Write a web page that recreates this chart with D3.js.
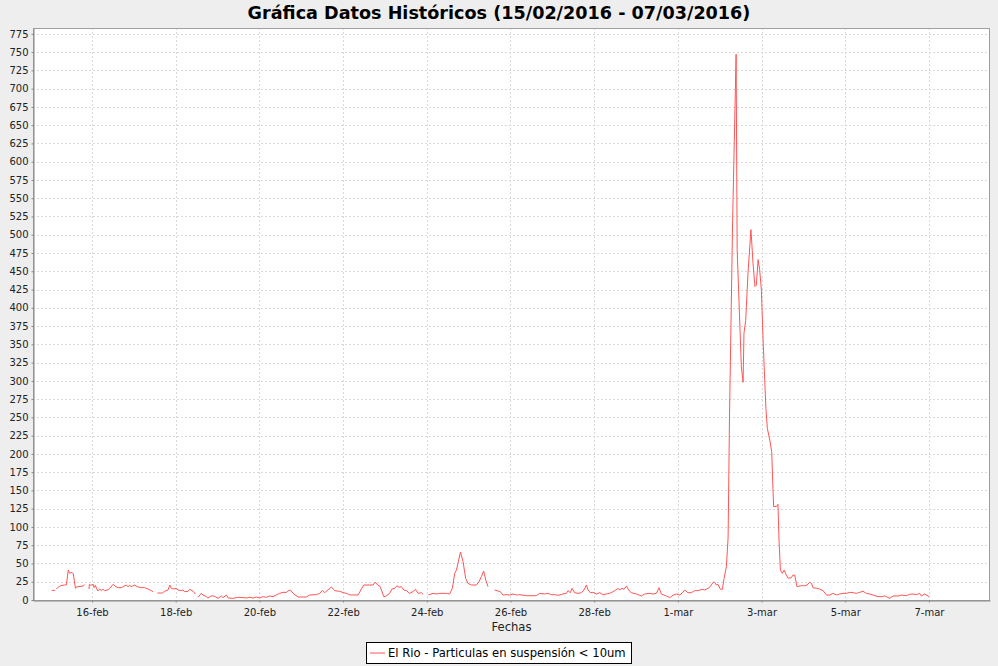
<!DOCTYPE html>
<html>
<head>
<meta charset="utf-8">
<script src="https://cdn.jsdelivr.net/npm/d3@7"></script>
<style>
  body { margin: 0; background: #eeeeee; }
  svg { display: block; }
</style>
</head>
<body>
<svg width="998" height="666"></svg>
<script>
// readings: [hours since 15/02/2016 00:00, PM10 value], null = no data
var week1 = [
  [0.9, 13.2], [2.8, 13.2], [3.2, null],
  [3.6, 15], [4.3, 16.9], [6.0, 19.6], [8.2, 20.5], [9.3, 20.5], [10.4, 41.1], [11.2, 36.5],
  [12.5, 37.9], [13.3, 35.6], [14.5, 16.0], [15.0, 17.8], [18.9, 19.2], [19.8, 21.0], [21, null],
  [22.3, 15.1], [22.5, 21.5], [23.3, 20.1], [24.6, 21.5], [25.2, 16.9], [25.9, 20.1], [27.3, 12.3],
  [28.4, 15.1], [29.4, 12.8], [30.3, 14.6], [31.3, 12.8], [33.2, 14.1], [34.2, 16.0], [36.1, 21.5],
  [37.6, 18.3], [38.9, 16.9], [40.8, 16.9], [42.4, 19.2], [43.7, 20.1], [44.7, 18.3], [45.6, 20.1],
  [46.6, 18.3], [48.5, 20.5], [50.4, 17.8], [52.3, 16.9], [54.2, 16.9], [56.1, 15.1], [58.0, 12.8],
  [59.0, 11.4], [60.2, null],
  [61.5, 9.6], [64.4, 9.6], [65.7, 11.9], [67.6, 13.7], [68.6, 20.5], [69.5, 16.0], [70.9, 15.1],
  [72.4, 16.0], [73.3, 13.7], [75.3, 12.8], [76.2, 13.7], [77.2, 11.4], [79.1, 11.9], [80.0, 14.6],
  [82.0, 11.9], [83.3, 8.2], [84, null],
  [84.8, 3.6], [86.7, 9.1], [87.7, 6.8], [89.6, 4.6], [90.5, 2.7], [92.5, 5.9], [94.4, 5.0],
  [96.3, 2.3], [98.2, 5.5], [99.2, 3.2], [101.1, 6.8], [102.2, 2.7], [104.9, 2.3], [106.8, 3.2],
  [108.7, 3.7], [112.5, 2.7], [114.4, 3.7], [116.4, 2.7], [118.3, 4.1], [120.2, 2.7], [122.1, 4.6],
  [124.0, 3.7], [125.9, 5.5], [127.8, 4.6], [129.7, 6.9], [131.6, 9.1], [133.6, 10.5], [135.5, 10.5],
  [136.4, 12.3], [137.8, 13.7], [139.3, 9.1], [142.2, 4.1], [146.9, 4.1], [148.9, 6.9], [152.7, 7.3],
  [154.6, 9.1], [156.1, 13.2], [157.5, 10.1], [158.8, 12.8], [161.3, 17.8], [163.2, 12.8], [166.1, 11.9]
];
var week2 = [
  [168.0, 10.1], [169.9, 9.1], [171.8, 6.9], [176.6, 6.9], [179.8, 20.5], [185.2, 20.5], [186.5, 24.2],
  [188.0, 20.1], [189.0, 19.2], [190.0, 13.7], [191.3, 4.6], [192.8, 5.5], [194.7, 9.1], [196.1, 15.1],
  [197.6, 16.0], [198.9, 19.6], [200.1, 17.4], [201.4, 18.3], [202.8, 13.7], [204.3, 12.8], [206.2, 9.1],
  [208.1, 11.4], [209.5, 14.6], [211.0, 9.1], [212.9, 10.0], [213.9, 7.8], [215.4, null],
  [216.9, 6.9], [219.6, 9.1], [221.5, 8.2], [223.4, 9.1], [227.2, 9.1], [229.1, 8.2], [230.7, 16.0],
  [232.0, 36.5], [233.0, 41.1], [233.9, 50.2], [235.3, 65.7], [236.8, 52.5], [238.3, 29.7], [239.6, 22.8],
  [241.6, 20.5], [244.4, 20.5], [246.0, 25.1], [247.3, 32.0], [248.6, 39.7], [249.8, 27.4], [251.1, 18.3],
  [253, null],
  [254.9, 13.7], [256.9, 12.3], [258.2, 11.4], [259.7, 6.8], [261.6, 7.3], [263.5, 6.8], [265.5, 8.2],
  [267.4, 6.8], [269.3, 7.3], [273.1, 5.9], [278.8, 5.9], [280.8, 9.1], [283.6, 8.2], [285.5, 9.1],
  [287.4, 7.3], [289.4, 7.3], [291.3, 6.4], [294.1, 8.2], [296.0, 9.1], [297.0, 12.8], [298.3, 10.0],
  [299.3, 16.0], [300.8, 10.0], [302.7, 9.1], [304.6, 10.0], [306.2, 13.7], [307.5, 20.5], [308.5, 13.7],
  [309.8, 10.0], [311.3, 10.5], [313.3, 8.2], [315.2, 10.0], [317.1, 7.3], [319.0, 8.2], [320.9, 9.1],
  [322.8, 11.4], [324.3, 13.7], [325.7, 16.0], [326.6, 13.7], [328.0, 16.0], [329.1, 14.6], [330.5, 19.2],
  [332.0, 12.8], [333.3, 10.0]
];
var week3 = [
  [336.2, 8.2], [339.1, 5.5], [341.0, 8.2], [343.8, 9.1], [345.7, 8.2], [347.7, 9.1], [349.2, 16.9],
  [350.5, 8.2], [353.4, 5.5], [355.3, 3.2], [357.2, 6.4], [359.1, 8.2], [361.1, 6.8], [362.6, 10.0],
  [363.9, 13.7], [365.8, 10.0], [367.7, 10.0], [369.6, 12.8], [371.6, 12.8], [373.5, 14.6], [375.4, 13.7],
  [377.3, 16.0], [378.6, 18.3], [380.2, 24.2], [381.1, 24.2], [382.1, 20.5], [383.0, 21.4], [384.4, 14.6],
  [385.5, 14.6], [386.5, 29.7], [387.8, 45.6], [388.8, 85], [389.6, 250], [390.6, 400], [391.4, 520],
  [393.4, 747], [394.0, 480], [396.4, 319], [397.4, 298], [397.9, 365], [398.9, 383], [400.2, 447],
  [401.9, 507], [403.1, 461], [404.2, 429], [405.0, 431], [406.0, 466], [406.9, 452], [407.9, 424],
  [408.8, 360], [409.8, 301], [410.5, 262], [411.3, 235], [412.7, 219], [413.8, 203], [414.9, 128],
  [416.5, 128], [417.4, 131], [418.0, 82], [418.8, 41], [419.9, 36.5], [420.9, 41], [422.2, 34.2],
  [423.2, 29.7], [425.1, 30.6], [426.0, 34.2], [427.0, 34.2], [428.3, 18.3], [430.8, 19.6], [432.7, 19.6],
  [434.1, 20.5], [435.6, 24.2], [436.6, 22.8], [437.5, 16.9], [439.4, 16.0], [441.3, 15.1], [443.3, 12.8],
  [445.2, 6.8], [447.1, 6.8], [449.0, 9.1], [450.9, 6.8], [452.8, 8.2], [454.7, 9.1], [456.6, 9.1],
  [458.5, 10.5], [460.5, 10.0], [462.4, 9.1], [464.3, 10.5], [466.2, 11.9], [468.1, 9.1], [470.0, 8.2],
  [471.9, 6.8], [474.8, 4.6], [476.7, 4.6], [478.6, 5.5], [481.5, 2.3], [483.4, 5.5], [486.3, 5.5],
  [488.2, 6.8], [491.0, 5.9], [492.9, 7.8], [494.9, 8.2], [496.8, 7.3], [498.7, 9.1], [499.6, 5.5],
  [501.6, 8.2], [504.0, 4.6]
];

var tickDates = ["2016-02-16", "2016-02-18", "2016-02-20", "2016-02-22", "2016-02-24", "2016-02-26",
  "2016-02-28", "2016-03-01", "2016-03-03", "2016-03-05", "2016-03-07"];
var tickLabels = ["16-feb", "18-feb", "20-feb", "22-feb", "24-feb", "26-feb",
  "28-feb", "1-mar", "3-mar", "5-mar", "7-mar"];
var yTickValues = d3.range(0, 776, 25);

var chartTitle = "Gráfica Datos Históricos (15/02/2016 - 07/03/2016)";
var seriesName = "El Rio - Particulas en suspensión < 10um";

var svg = d3.select("svg"),
    plotLeft = 33, plotTop = 28, plotRight = 990, plotBottom = 600;

var parseDay = d3.timeParse("%Y-%m-%d");
var start = new Date(2016, 1, 15, 0, 0);

var x = d3.scaleTime()
    .domain([new Date(2016, 1, 14, 14, 10), new Date(2016, 2, 8, 11, 0)])
    .range([plotLeft, plotRight]);
var y = d3.scaleLinear().domain([0, 783]).range([plotBottom, plotTop]);

var readings = week1.concat(week2, week3).map(function (d) {
    return { t: d3.timeMinute.offset(start, Math.round(d[0] * 60)), v: d[1] };
});
var ticks = tickDates.map(parseDay);

//plot background
svg.append("rect")
    .attr("x", plotLeft).attr("y", plotTop)
    .attr("width", plotRight - plotLeft).attr("height", plotBottom - plotTop)
    .attr("fill", "#ffffff");

//grid
var grid = svg.append("g")
    .attr("stroke", "#d9d9d9")
    .attr("stroke-dasharray", "2,2")
    .attr("shape-rendering", "crispEdges");
grid.selectAll(".vg").data(ticks).enter().append("line")
    .attr("x1", function (d) { return Math.round(x(d)) + 0.5; })
    .attr("x2", function (d) { return Math.round(x(d)) + 0.5; })
    .attr("y1", plotTop).attr("y2", plotBottom);
grid.selectAll(".hg").data(yTickValues).enter().append("line")
    .attr("x1", plotLeft).attr("x2", plotRight)
    .attr("y1", function (d) { return Math.round(y(d)) + 0.5; })
    .attr("y2", function (d) { return Math.round(y(d)) + 0.5; });

//series
svg.append("clipPath").attr("id", "plot")
    .append("rect")
    .attr("x", plotLeft).attr("y", plotTop)
    .attr("width", plotRight - plotLeft).attr("height", plotBottom - plotTop);

var line = d3.line()
    .defined(function (d) { return d.v !== null; })
    .x(function (d) { return x(d.t); })
    .y(function (d) { return y(d.v); });

svg.append("path")
    .datum(readings)
    .attr("clip-path", "url(#plot)")
    .attr("fill", "none")
    .attr("stroke", "#ff5555")
    .attr("stroke-width", 1)
    .attr("stroke-linejoin", "round")
    .attr("d", line);

//plot outline
svg.append("rect")
    .attr("x", plotLeft + 0.5).attr("y", plotTop + 0.5)
    .attr("width", plotRight - plotLeft - 1).attr("height", plotBottom - plotTop)
    .attr("fill", "none")
    .attr("stroke", "#a0a0a0");

//axes
var xAxis = svg.append("g")
    .attr("transform", "translate(0," + (plotBottom + 0.5) + ")")
    .call(d3.axisBottom(x)
        .tickValues(ticks)
        .tickFormat(function (d, i) { return tickLabels[i]; })
        .tickSize(2).tickSizeOuter(0).tickPadding(6));

var yAxis = svg.append("g")
    .attr("transform", "translate(" + (plotLeft + 0.5) + ",0)")
    .call(d3.axisLeft(y)
        .tickValues(yTickValues)
        .tickSize(2).tickSizeOuter(0).tickPadding(3));

[xAxis, yAxis].forEach(function (g) {
    g.select(".domain").attr("stroke", "#888888");
    g.selectAll(".tick line").attr("stroke", "#888888");
    g.selectAll("text")
        .attr("fill", "#222222")
        .style("font-family", "DejaVu Sans")
        .style("font-size", "10px");
});

svg.append("text")
    .attr("x", (plotLeft + plotRight) / 2)
    .attr("y", 631)
    .attr("text-anchor", "middle")
    .style("font-family", "DejaVu Sans")
    .style("font-size", "11.6px")
    .attr("fill", "#222222")
    .text("Fechas");

//title
svg.append("text")
    .attr("x", 499)
    .attr("y", 19)
    .attr("text-anchor", "middle")
    .style("font-family", "DejaVu Sans")
    .style("font-weight", "bold")
    .style("font-size", "17.6px")
    .attr("fill", "#000000")
    .text(chartTitle);

//legend
var legend = svg.append("g");
legend.append("rect")
    .attr("x", 366.5).attr("y", 642.5)
    .attr("width", 265).attr("height", 21)
    .attr("fill", "#ffffff")
    .attr("stroke", "#000000");
legend.append("line")
    .attr("x1", 370).attr("x2", 385)
    .attr("y1", 653).attr("y2", 653)
    .attr("stroke", "#ff5555");
legend.append("text")
    .attr("x", 388)
    .attr("y", 657)
    .style("font-family", "DejaVu Sans")
    .style("font-size", "11.6px")
    .attr("fill", "#000000")
    .text(seriesName);
</script>
</body>
</html>
